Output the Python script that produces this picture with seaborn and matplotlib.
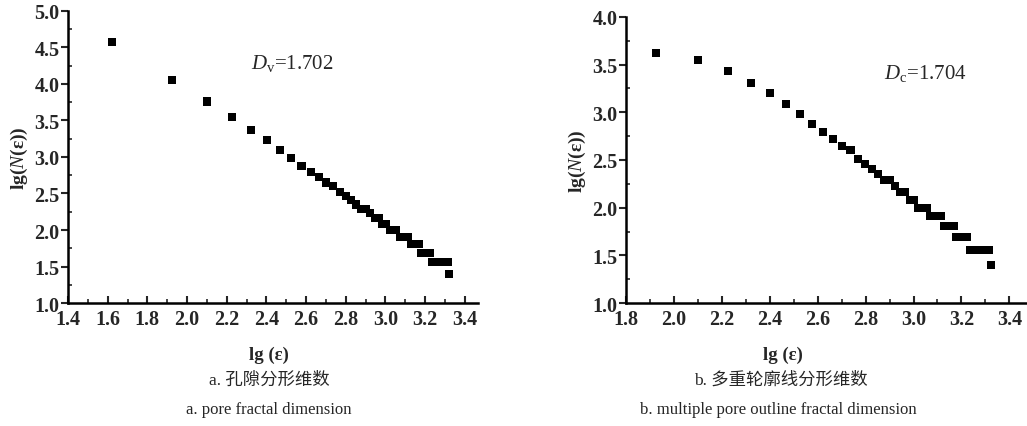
import matplotlib
matplotlib.use("Agg")
import matplotlib.pyplot as plt
import pandas as pd
import seaborn as sns
from matplotlib.ticker import MultipleLocator

# lg(eps) values
lg_eps = [1.623, 1.924, 2.100, 2.225, 2.322, 2.401, 2.468, 2.526, 2.577, 2.623,
          2.665, 2.702, 2.737, 2.769, 2.799, 2.827, 2.853, 2.878, 2.902, 2.924,
          2.945, 2.965, 2.985, 3.003, 3.021, 3.038, 3.055, 3.071, 3.085, 3.100,
          3.114, 3.128, 3.142, 3.155, 3.167, 3.179, 3.191, 3.203, 3.214, 3.225,
          3.236, 3.246, 3.257, 3.267, 3.276, 3.286, 3.295, 3.304, 3.313, 3.322]

# a. pore fractal dimension
lgN_pore = [4.57, 4.05, 3.76, 3.55, 3.37, 3.23, 3.10, 2.99, 2.88, 2.79,
            2.72, 2.65, 2.60, 2.52, 2.46, 2.41, 2.35, 2.29, 2.29, 2.23,
            2.16, 2.16, 2.08, 2.08, 2.00, 2.00, 2.00, 1.91, 1.91, 1.91,
            1.91, 1.81, 1.81, 1.81, 1.81, 1.69, 1.69, 1.69, 1.69, 1.69,
            1.56, 1.56, 1.56, 1.56, 1.56, 1.56, 1.56, 1.56, 1.56, 1.40]

# b. multiple pore outline fractal dimension (starts at the 2nd eps)
lgN_outline = [3.62, 3.55, 3.43, 3.31, 3.20, 3.09, 2.98, 2.88, 2.79,
               2.72, 2.65, 2.60, 2.51, 2.46, 2.41, 2.35, 2.29, 2.29, 2.23,
               2.16, 2.16, 2.08, 2.08, 2.00, 2.00, 2.00, 1.91, 1.91, 1.91,
               1.91, 1.81, 1.81, 1.81, 1.81, 1.69, 1.69, 1.69, 1.69, 1.69,
               1.56, 1.56, 1.56, 1.56, 1.56, 1.56, 1.56, 1.56, 1.56, 1.40]

df_a = pd.DataFrame({'x': lg_eps, 'y': lgN_pore})
df_b = pd.DataFrame({'x': lg_eps[1:], 'y': lgN_outline})

sns.set_style('ticks')
plt.rcParams['font.family'] = ['Liberation Serif', 'Noto Sans CJK SC']
plt.rcParams['mathtext.fontset'] = 'custom'
plt.rcParams['mathtext.rm'] = 'Liberation Serif'
plt.rcParams['mathtext.it'] = 'Liberation Serif:italic'
plt.rcParams['mathtext.bf'] = 'Liberation Serif:bold'

fig = plt.figure(figsize=(10.27, 4.27), dpi=100)
ax1 = fig.add_axes([0.0662, 0.288, 0.399, 0.684])
ax2 = fig.add_axes([0.6095, 0.288, 0.392, 0.670])


def style_axis(ax, xlim, ylim):
    ax.set_xlim(*xlim)
    ax.set_ylim(*ylim)
    ax.xaxis.set_major_locator(MultipleLocator(0.2))
    ax.xaxis.set_minor_locator(MultipleLocator(0.1))
    ax.yaxis.set_major_locator(MultipleLocator(0.5))
    ax.yaxis.set_minor_locator(MultipleLocator(0.25))
    for s in ['top', 'right']:
        ax.spines[s].set_visible(False)
    for s in ['left', 'bottom']:
        ax.spines[s].set_linewidth(1.8)
        ax.spines[s].set_color('black')
    ax.tick_params(axis='x', which='major', direction='in', length=5, width=1.5,
                   labelsize=14.5, pad=4)
    ax.tick_params(axis='x', which='minor', direction='in', length=3, width=1.2)
    ax.tick_params(axis='y', which='major', direction='out', length=5, width=1.5,
                   labelsize=14.5, pad=1)
    ax.tick_params(axis='y', which='minor', direction='in', length=3, width=1.2)
    for lab in ax.get_xticklabels() + ax.get_yticklabels():
        lab.set_fontweight('bold')
    ax.set_xlabel('')
    ax.set_ylabel(r'lg($\mathit{N}$(ε))', fontsize=14, fontweight='bold', labelpad=3)


sns.scatterplot(data=df_a, x='x', y='y', marker='s', s=34, color='black',
                edgecolor='none', ax=ax1)
style_axis(ax1, (1.4, 3.465), (1.0, 5.0))
ax1.text(2.32, 4.30, r'$D_{\rm v}$=1.702', fontsize=15, va='center')

sns.scatterplot(data=df_b, x='x', y='y', marker='s', s=34, color='black',
                edgecolor='none', ax=ax2)
style_axis(ax2, (1.8, 3.48), (1.0, 4.0))
ax2.text(2.875, 3.42, r'$D_{\rm c}$=1.704', fontsize=15, va='center')

fig.text(0.262, 0.168, 'lg (ε)', ha='center', va='center', fontsize=13.5, fontweight='bold')
fig.text(0.262, 0.108, 'a. 孔隙分形维数', ha='center', va='center', fontsize=12.5)
fig.text(0.262, 0.040, 'a. pore fractal dimension', ha='center', va='center', fontsize=12)

fig.text(0.762, 0.168, 'lg (ε)', ha='center', va='center', fontsize=13.5, fontweight='bold')
fig.text(0.760, 0.108, 'b. 多重轮廓线分形维数', ha='center', va='center', fontsize=12.5)
fig.text(0.758, 0.040, 'b. multiple pore outline fractal dimension', ha='center',
         va='center', fontsize=12)

fig.savefig('out.png', dpi=100)
